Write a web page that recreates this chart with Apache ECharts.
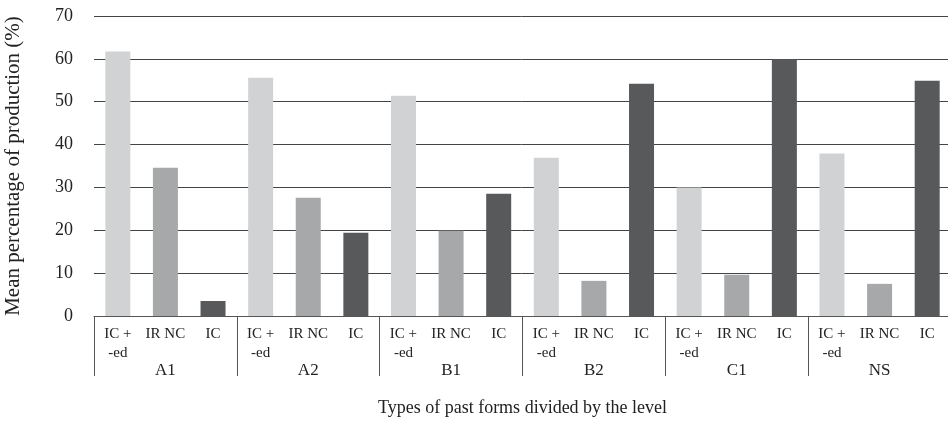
<!DOCTYPE html>
<html>
<head>
<meta charset="utf-8">
<script src="https://cdn.jsdelivr.net/npm/echarts@6/dist/echarts.min.js"></script>
<style>
html,body{margin:0;padding:0;background:#fff;}
#chart{width:948px;height:422px;}
</style>
</head>
<body>
<div id="chart"></div>
<script>
var groups = ['A1', 'A2', 'B1', 'B2', 'C1', 'NS'];
var types = ['IC +\n-ed', 'IR NC', 'IC'];
var icEd = [61.7, 55.6, 51.4, 36.9, 30.0, 37.9];
var irNc = [34.6, 27.6, 19.9, 8.2, 9.6, 7.5];
var ic = [3.5, 19.4, 28.5, 54.2, 59.9, 54.9];
var yTicks = [0, 10, 20, 30, 40, 50, 60, 70];
var typeColors = ['#d1d2d4', '#a7a8aa', '#58595b'];

var FONT = 'Liberation Serif';
var categories = [];
var barData = [];
var seriesVals = [icEd, irNc, ic];
for (var g = 0; g < groups.length; g++) {
  for (var t = 0; t < types.length; t++) {
    categories.push(types[t]);
    barData.push({ value: seriesVals[t][g], itemStyle: { color: typeColors[t] } });
  }
}

var chart = echarts.init(document.getElementById('chart'), null, { renderer: 'canvas' });
chart.setOption({
  animation: false,
  backgroundColor: '#fff',
  textStyle: { fontFamily: FONT },
  grid: { left: 94, top: 16, width: 857, height: 300, containLabel: false, outerBoundsMode: 'none' },
  xAxis: [
    {
      type: 'category',
      data: categories,
      position: 'bottom',
      axisLine: { show: true, lineStyle: { color: '#555', width: 1 } },
      axisTick: { show: false },
      axisLabel: {
        interval: 0, margin: 9, color: '#222', fontFamily: FONT, fontSize: 15, lineHeight: 19
      },
      name: 'Types of past forms divided by the level',
      nameLocation: 'middle',
      nameGap: 83,
      nameTextStyle: { fontFamily: FONT, fontSize: 18, color: '#222' }
    },
    {
      type: 'category',
      data: groups,
      position: 'bottom',
      offset: 0,
      axisLine: { show: false },
      axisTick: { show: true, length: 60, lineStyle: { color: '#555', width: 1 } },
      axisLabel: { interval: 0, margin: 46, color: '#222', fontFamily: FONT, fontSize: 17 }
    }
  ],
  yAxis: {
    type: 'value',
    min: yTicks[0],
    max: yTicks[yTicks.length - 1],
    interval: 10,
    axisLine: { show: false },
    axisTick: { show: false },
    axisLabel: { margin: 21, color: '#222', fontFamily: FONT, fontSize: 18 },
    splitLine: { show: true, lineStyle: { color: '#444', width: 1 } },
    name: 'Mean percentage of production (%)',
    nameLocation: 'middle',
    nameGap: 70,
    nameTextStyle: { fontFamily: FONT, fontSize: 21, color: '#222' }
  },
  series: [
    {
      type: 'bar',
      xAxisIndex: 0,
      data: barData,
      barWidth: 25
    }
  ]
});
</script>
</body>
</html>
